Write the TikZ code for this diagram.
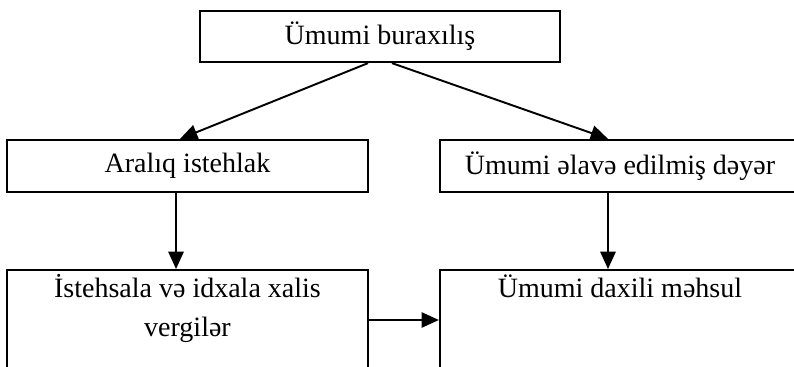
\documentclass[tikz,border=0pt]{standalone}
\usepackage{fontspec}
\setmainfont{Liberation Serif}
\usetikzlibrary{arrows.meta}
\tikzset{box/.style = {draw, line width=1.7pt, inner sep=0pt,
                       font=\fontsize{21}{29}\selectfont}}
\tikzset{link/.style = {line width=1.45pt,
                        -{Triangle[length=13pt, width=11.5pt]}}}

\begin{document}
\begin{tikzpicture}[x=0.75pt, y=-0.75pt]
			\useasboundingbox (0, 0) rectangle (794, 367);
			\clip (0, 0) rectangle (794, 367);
			\node [box, minimum width=270pt, minimum height=38.25pt] (gross) at (380, 36.5) {Ümumi buraxılış};
			\node [box, minimum width=270.75pt, minimum height=39pt] (inter) at (187.5, 166) {Aralıq istehlak};
			\node [box, minimum width=270pt, minimum height=39pt] (gva) at (620, 166) {Ümumi əlavə edilmiş dəyər};
			\node [box, anchor=north, inner ysep=3.5pt] (taxes) at (187.5, 269) {\parbox[t][90pt][t]{270.75pt}{\centering İstehsala və idxala xalis\\ vergilər}};
			\node [box, anchor=north, inner ysep=3.5pt] (gdp) at (620, 269) {\parbox[t][90pt][t]{270pt}{\centering Ümumi daxili məhsul}};
			\draw [link] ([xshift=-9pt]gross.south) to ([xshift=-5.6pt]inter.north);
			\draw [link] ([xshift=9pt]gross.south) to ([xshift=-9pt]gva.north);
			\draw [link] ([xshift=-8.6pt]inter.south) to ([xshift=-8.6pt]taxes.north);
			\draw [link] ([xshift=-9pt]gva.south) to ([xshift=-9pt]gdp.north);
			\draw [link] ([yshift=-38.25pt]taxes.north east) to ([yshift=-38.25pt]gdp.north west);
		\end{tikzpicture}
\end{document}
